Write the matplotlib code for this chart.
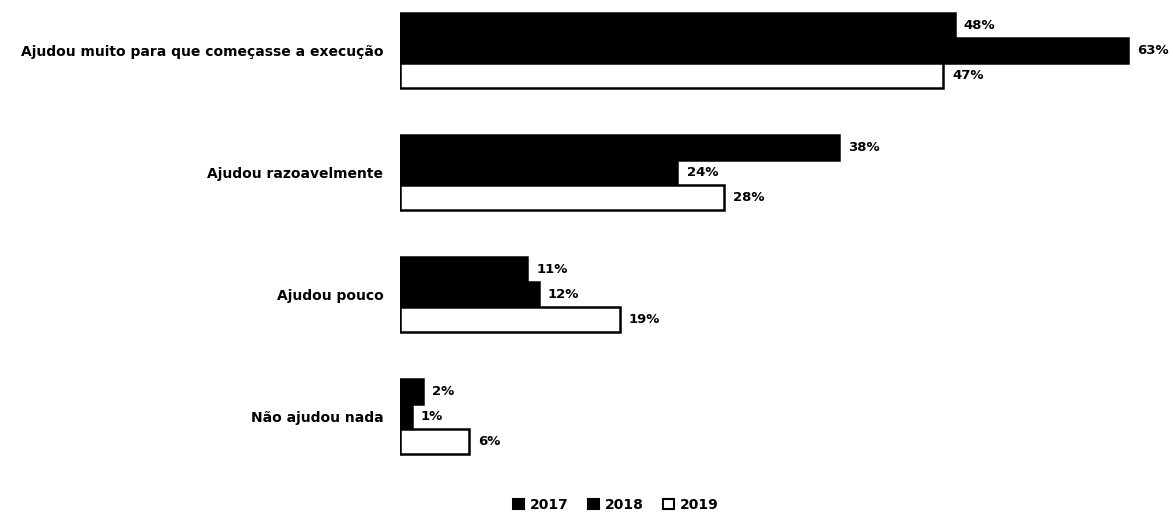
import matplotlib
matplotlib.use("Agg")
import matplotlib.pyplot as plt
import numpy as np
from matplotlib.patches import Patch

categories = ["Ajudou muito para que começasse a execução",
              "Ajudou razoavelmente",
              "Ajudou pouco",
              "Não ajudou nada"]
years = ["2017", "2018", "2019"]
v2017 = [48, 38, 11, 2]
v2018 = [63, 24, 12, 1]
v2019 = [47, 28, 19, 6]

W, H = 1173, 524
fig = plt.figure(figsize=(W / 100, H / 100), dpi=100)
ax = fig.add_axes([400 / W, 1 - 478 / H, 773 / W, 478 / H])

y = np.arange(len(categories))
h = 0.205
series = [v2017, v2018, v2019]
faces = ["black", "black", "white"]
for i, (vals, fc) in enumerate(zip(series, faces)):
    pos = y + (i - 1) * h
    ax.barh(pos, vals, height=h, color=fc, edgecolor="black", linewidth=1.8)
    for p, v in zip(pos, vals):
        ax.text(v + 0.8, p, f"{v}%", va="center", ha="left",
                fontsize=9.5, fontweight="bold", color="black")

ax.set_xlim(0, 66.9)
ax.set_ylim(3.504, -0.414)
ax.set_yticks(y)
ax.set_yticklabels(categories, fontsize=10, fontweight="bold")
ax.tick_params(axis="y", length=0, pad=12)
ax.set_xticks([])
for s in ax.spines.values():
    s.set_visible(False)

handles = [Patch(facecolor=fc, edgecolor="black", linewidth=1.5, label=yr)
           for fc, yr in zip(faces, years)]
fig.legend(handles=handles, loc="center", bbox_to_anchor=(616 / W, 1 - 505 / H),
           ncol=3, frameon=False, handlelength=0.8, handleheight=0.8,
           columnspacing=1.4, handletextpad=0.4, prop={"weight": "bold", "size": 10})

fig.savefig("out.png", dpi=100)
